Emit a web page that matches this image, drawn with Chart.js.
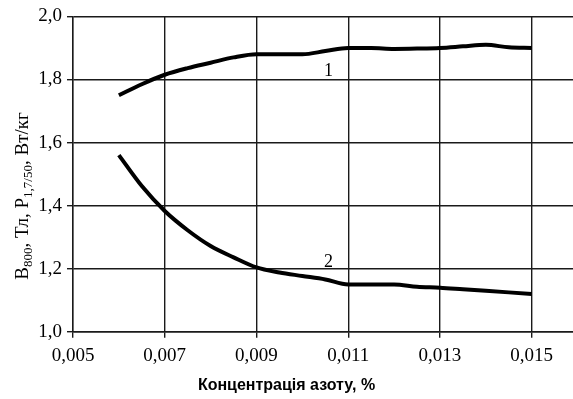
<!DOCTYPE html>
<html>
<head>
<meta charset="utf-8">
<script src="https://cdn.jsdelivr.net/npm/chart.js@4"></script>
<style>
  html, body { margin: 0; padding: 0; background: #fff; }
  #wrap { width: 573px; height: 399px; }
</style>
</head>
<body>
<div id="wrap"><canvas id="myChart"></canvas></div>
<script>
// концентрація азоту, %
const conc = [0.006, 0.0065, 0.007, 0.0075, 0.008, 0.0085, 0.009, 0.0095, 0.010, 0.0105,
              0.011, 0.0115, 0.012, 0.0125, 0.013, 0.0135, 0.014, 0.0145, 0.015];
// крива 1 - B800, Тл
const curve1 = [1.75, 1.785, 1.815, 1.836, 1.853, 1.87, 1.88, 1.88, 1.88, 1.89,
                1.90, 1.90, 1.897, 1.898, 1.90, 1.905, 1.91, 1.902, 1.90];
// крива 2 - P1,7/50, Вт/кг
const curve2 = [1.56, 1.462, 1.383, 1.322, 1.272, 1.236, 1.204, 1.188, 1.177, 1.166,
                1.15, 1.15, 1.15, 1.143, 1.14, 1.135, 1.13, 1.125, 1.12];
const xTicks = [0.005, 0.007, 0.009, 0.011, 0.013, 0.015];
const yTicks = [1.0, 1.2, 1.4, 1.6, 1.8, 2.0];
const curveLabels = [
    { text: '1', x: 0.01057, y: 1.825 },
    { text: '2', x: 0.01057, y: 1.22 }
];
const xTitle = 'Концентрація азоту, %';
const yTitleParts = [['B', false], ['800', true], [', Тл, P', false], ['1,7/50', true], [', Вт/кг', false]];

const gridColor = '#1a1a1a';
const serif = "'Liberation Serif', 'Times New Roman', serif";

const toPoints = ys => conc.map((x, i) => ({ x: x, y: ys[i] }));

const curveLabelPlugin = {
    id: 'curveLabels',
    afterDatasetsDraw(chart) {
        const ctx = chart.ctx;
        const xs = chart.scales.x, ys = chart.scales.y;
        ctx.save();
        ctx.fillStyle = '#000';
        ctx.font = '18px ' + serif;
        ctx.textAlign = 'center';
        ctx.textBaseline = 'middle';
        curveLabels.forEach(l => {
            ctx.fillText(l.text, xs.getPixelForValue(l.x), ys.getPixelForValue(l.y));
        });
        ctx.restore();
    }
};

// підпис осі Y з нижніми індексами
const yTitlePlugin = {
    id: 'yTitle',
    afterDraw(chart) {
        const ctx = chart.ctx;
        const big = '19px ' + serif, small = '13px ' + serif;
        let total = 0;
        yTitleParts.forEach(p => {
            ctx.font = p[1] ? small : big;
            total += ctx.measureText(p[0]).width;
        });
        ctx.save();
        ctx.translate(28, 196);
        ctx.rotate(-Math.PI / 2);
        ctx.fillStyle = '#000';
        ctx.textBaseline = 'alphabetic';
        let x = -total / 2;
        yTitleParts.forEach(p => {
            ctx.font = p[1] ? small : big;
            ctx.fillText(p[0], x, p[1] ? 4 : 0);
            x += ctx.measureText(p[0]).width;
        });
        ctx.restore();
    }
};

const ctx = document.getElementById('myChart').getContext('2d');
const myChart = new Chart(ctx, {
    type: 'line',
    data: {
        datasets: [
            {
                label: '1',
                data: toPoints(curve1),
                borderColor: '#000',
                borderWidth: 4,
                pointRadius: 0,
                cubicInterpolationMode: 'monotone',
                fill: false
            },
            {
                label: '2',
                data: toPoints(curve2),
                borderColor: '#000',
                borderWidth: 4,
                pointRadius: 0,
                cubicInterpolationMode: 'monotone',
                fill: false
            }
        ]
    },
    options: {
        responsive: true,
        maintainAspectRatio: false,
        animation: false,
        layout: { padding: { top: 15, right: 0, bottom: 4, left: 0 } },
        scales: {
            x: {
                type: 'linear',
                min: 0.005,
                max: 0.0159,
                afterBuildTicks: scale => { scale.ticks = xTicks.map(v => ({ value: v })); },
                afterFit: scale => { scale.height = 42; },
                ticks: {
                    color: '#000',
                    font: { family: serif, size: 19 },
                    padding: 7,
                    maxRotation: 0,
                    callback: v => v.toFixed(3).replace('.', ',')
                },
                grid: { color: gridColor, lineWidth: 1.4, tickLength: 6 },
                border: { color: gridColor, width: 1.4 }
            },
            y: {
                min: 1.0,
                max: 2.0,
                afterBuildTicks: scale => { scale.ticks = yTicks.map(v => ({ value: v })); },
                afterFit: scale => { scale.width = 73; },
                ticks: {
                    color: '#000',
                    font: { family: serif, size: 19 },
                    padding: 5,
                    callback: v => v.toFixed(1).replace('.', ',')
                },
                grid: { color: gridColor, lineWidth: 1.4, tickLength: 6 },
                border: { color: gridColor, width: 1.4 }
            }
        },
        plugins: {
            legend: { display: false },
            tooltip: { enabled: false },
            title: {
                display: true,
                position: 'bottom',
                text: xTitle,
                color: '#000',
                font: { family: "'Liberation Sans', Arial, sans-serif", size: 16, weight: 'bold' },
                padding: { top: 2, bottom: 0 }
            }
        }
    },
    plugins: [curveLabelPlugin, yTitlePlugin]
});
</script>
</body>
</html>
